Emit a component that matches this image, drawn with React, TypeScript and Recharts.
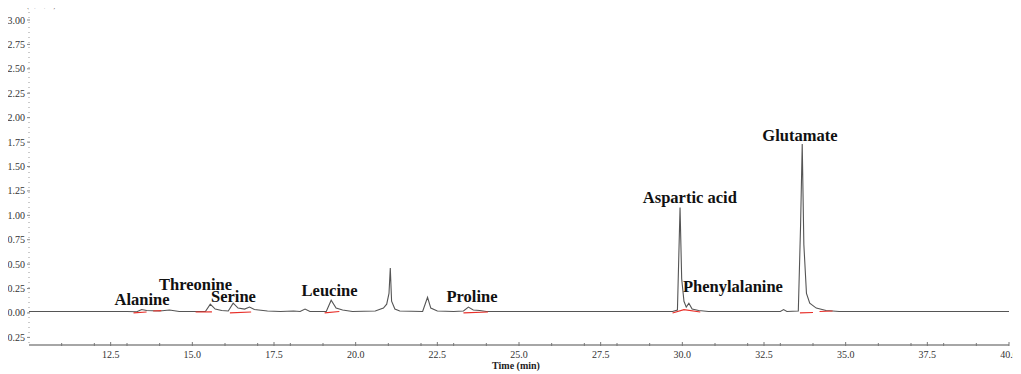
import React from 'react';
import { ComposedChart, Line, Scatter, XAxis, YAxis } from 'recharts';

// Chromatogram trace (time in min, intensity x1,000,000)
const traceTimes = [
  10.0, 13.0, 13.3, 13.45, 13.6, 14.0, 14.3, 14.6, 15.4, 15.55, 15.7, 15.9, 16.1, 16.25, 16.4, 16.6,
  16.75, 16.9, 17.3, 17.7, 18.1, 18.3, 18.45, 18.6, 19.1, 19.25, 19.4, 19.6, 19.9, 20.6, 20.85, 20.95,
  21.02, 21.06, 21.1, 21.2, 21.35, 22.05, 22.2, 22.3, 22.5, 23.0, 23.3, 23.45, 23.6, 23.8, 24.0, 29.7,
  29.85, 29.93, 29.98, 30.05, 30.12, 30.2, 30.3, 30.5, 30.8, 33.0, 33.1, 33.2, 33.55, 33.62, 33.67,
  33.72, 33.8, 33.9, 34.1, 34.4, 34.8, 40.0,
];
const traceValues = [
  0.015, 0.015, 0.012, 0.035, 0.025, 0.02, 0.03, 0.015, 0.015, 0.09, 0.04, 0.025, 0.02, 0.1, 0.05, 0.04,
  0.06, 0.035, 0.02, 0.015, 0.02, 0.015, 0.04, 0.015, 0.015, 0.13, 0.05, 0.03, 0.015, 0.02, 0.05, 0.09,
  0.2, 0.46, 0.12, 0.04, 0.02, 0.015, 0.16, 0.05, 0.02, 0.015, 0.02, 0.06, 0.03, 0.025, 0.015, 0.015,
  0.03, 1.08, 0.35, 0.12, 0.06, 0.1, 0.04, 0.025, 0.015, 0.015, 0.035, 0.015, 0.02, 0.9, 1.73,
  0.7, 0.2, 0.1, 0.05, 0.025, 0.015, 0.015,
];

// Red integration baseline segments (null = gap)
const redTimes = [
  13.2, 13.6, 13.61, 13.8, 14.05, 14.06, 15.1, 15.6, 15.61, 16.15, 16.8, 16.81, 19.05, 19.5, 19.51,
  23.3, 24.05, 24.06, 29.7, 30.05, 30.55, 30.56, 33.6, 34.0, 34.01, 34.2, 34.6,
];
const redValues = [
  0.0, 0.01, null, 0.02, 0.025, null, 0.01, 0.012, null, 0.0, 0.01, null, 0.0, 0.015, null,
  0.0, 0.01, null, 0.0, 0.035, 0.01, null, 0.0, 0.005, null, 0.015, 0.02,
];

// Peak labels
const peakNames = ['Alanine', 'Threonine', 'Serine', 'Leucine', 'Proline', 'Aspartic acid', 'Phenylalanine', 'Glutamate'];
const peakLabelTimes = [13.46, 15.1, 16.26, 19.2, 23.56, 30.23, 31.55, 33.6];
const peakLabelValues = [0.135, 0.29, 0.17, 0.235, 0.17, 1.18, 0.27, 1.82];

const yTicks = [-0.25, 0, 0.25, 0.5, 0.75, 1.0, 1.25, 1.5, 1.75, 2.0, 2.25, 2.5, 2.75, 3.0];
const xTicks = [11, 12, 12.5, 13, 14, 15, 16, 17, 17.5, 18, 19, 20, 21, 22, 22.5, 23, 24, 25, 26, 27, 27.5, 28, 29, 30, 31, 32, 32.5, 33, 34, 35, 36, 37, 37.5, 38, 39, 40];
const xLabelTicks = [12.5, 15, 17.5, 20, 22.5, 25, 27.5, 30, 32.5, 35, 37.5, 40];

const trace = traceTimes.map((t, i) => ({ t, v: traceValues[i] }));
const redTrace = redTimes.map((t, i) => ({ t, v: redValues[i] }));
const labels = peakNames.map((name, i) => ({ t: peakLabelTimes[i], v: peakLabelValues[i], name }));

const tickFont = '"Liberation Serif", serif';

const YTick = (props: any) => {
  const { x, y, payload } = props;
  const val = Number(payload.value);
  return (
    <g>
      <line x1={x - 2} x2={x + 1} y1={y} y2={y} stroke="#888" strokeWidth={1} />
      <text x={x - 4} y={y} textAnchor="end" dominantBaseline="central" fontSize={10} fontFamily={tickFont} fill="#333">
        {val.toFixed(2)}
      </text>
    </g>
  );
};

const XTick = (props: any) => {
  const { x, y, payload } = props;
  const val = Number(payload.value);
  const major = xLabelTicks.includes(val);
  return (
    <g>
      <line x1={x} x2={x} y1={y - (major ? 3 : 2)} y2={y + 1} stroke="#777" strokeWidth={1} />
      {major && (
        <text x={x} y={y + 9} textAnchor="middle" dominantBaseline="central" fontSize={10} fontFamily={tickFont} fill="#333">
          {val.toFixed(1)}
        </text>
      )}
    </g>
  );
};

const LabelShape = (props: any) => {
  const { cx, cy, payload } = props;
  return (
    <text x={cx} y={cy} textAnchor="middle" dominantBaseline="central" fontSize={16.5} fontWeight="bold" fontFamily={tickFont} fill="#111">
      {payload.name}
    </text>
  );
};

export default function App() {
  return (
    <div style={{ position: 'relative', width: 1021, height: 366, marginLeft: -8 }}>
      <span style={{ position: 'absolute', left: 27, top: -6, fontSize: 5.5, lineHeight: '8px', fontFamily: tickFont, color: '#333', whiteSpace: 'nowrap' }}>
        (x1,000,000)
      </span>
      <ComposedChart width={1021} height={366} margin={{ top: 4, right: 12, left: 0, bottom: 0 }}>
        <XAxis
          dataKey="t"
          type="number"
          domain={[10, 40]}
          ticks={xTicks}
          interval={0}
          allowDataOverflow
          height={29}
          tickSize={0}
          tickMargin={0}
          tickLine={false}
          tick={<XTick />}
          axisLine={{ stroke: '#888', strokeWidth: 1.5 }}
          label={(p: any) => {
            const vb = p.viewBox || { x: 29, y: 337, width: 980 };
            return (
              <text x={vb.x + vb.width / 2 - 3} y={vb.y + 20} textAnchor="middle" dominantBaseline="central" fontSize={10} fontWeight="bold" fontFamily={tickFont} fill="#222">
                Time (min)
              </text>
            );
          }}
        />
        <YAxis
          dataKey="v"
          type="number"
          domain={[-0.328, 3.082]}
          ticks={yTicks}
          interval={0}
          allowDataOverflow
          width={29}
          tickSize={0}
          tickMargin={0}
          tickLine={false}
          tick={<YTick />}
          axisLine={{ stroke: '#999', strokeWidth: 1, strokeDasharray: '1 4' }}
        />
        <Line data={trace} dataKey="v" type="linear" stroke="#555" strokeWidth={1.1} dot={false} isAnimationActive={false} />
        <Line data={redTrace} dataKey="v" type="linear" stroke="#e8302a" strokeWidth={1.2} dot={false} connectNulls={false} isAnimationActive={false} />
        <Scatter data={labels} dataKey="v" shape={<LabelShape />} isAnimationActive={false} />
      </ComposedChart>
    </div>
  );
}
